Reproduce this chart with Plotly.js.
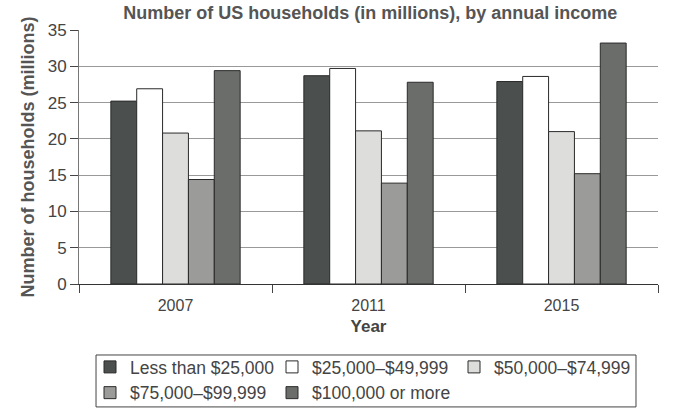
<!DOCTYPE html>
<html>
<head>
<meta charset="utf-8">
<script src="https://cdn.plot.ly/plotly-3.0.1.min.js"></script>
<style>html,body{margin:0;padding:0;background:#fff;}#chart{width:692px;height:417px;}</style>
</head>
<body>
<div id="chart"></div>
<script>
const years = ["2007", "2011", "2015"];
const seriesNames = ["Less than $25,000", "$25,000\u2013$49,999", "$50,000\u2013$74,999", "$75,000\u2013$99,999", "$100,000 or more"];
const lessThan25k = [25.2, 28.7, 27.9];
const from25kTo50k = [26.9, 29.7, 28.6];
const from50kTo75k = [20.8, 21.1, 21.0];
const from75kTo100k = [14.4, 13.9, 15.2];
const over100k = [29.4, 27.8, 33.2];
const seriesValues = [lessThan25k, from25kTo50k, from50kTo75k, from75kTo100k, over100k];
const colors = ["#4b4f4d", "#ffffff", "#dddddb", "#9b9c99", "#6a6d6a"];

const font = "Liberation Sans, Arial, Helvetica, sans-serif";
const traces = seriesNames.map((name, i) => ({
  type: "bar",
  name: name,
  x: years,
  y: seriesValues[i],
  marker: {color: colors[i], line: {color: "#2a2a2a", width: 1}}
}));

const layout = {
  width: 692, height: 417,
  margin: {l: 79, r: 34, t: 30, b: 133, autoexpand: false},
  paper_bgcolor: "#fff", plot_bgcolor: "#fff",
  font: {family: font, color: "#444", size: 16},
  barmode: "group", bargap: 0.33, bargroupgap: 0,
  title: {text: "<b>Number of US households (in millions), by annual income</b>",
          font: {family: font, size: 18, color: "#555"}, x: 0.535, xanchor: "center", y: 0.985, yanchor: "top"},
  xaxis: {
    type: "category",
    title: {text: "<b>Year</b>", font: {family: font, size: 17, color: "#444"}, standoff: 6},
    showline: true, linecolor: "#333", linewidth: 1,
    ticks: "outside", tickson: "boundaries", ticklen: 8, tickcolor: "#444",
    ticklabelstandoff: 7,
    tickfont: {family: font, size: 16, color: "#444"},
    showgrid: false
  },
  yaxis: {
    range: [0, 35], dtick: 5,
    title: {text: "<b>Number of households (millions)</b>", font: {family: font, size: 18, color: "#555"}, standoff: 8},
    showline: true, linecolor: "#777", linewidth: 1,
    ticks: "outside", ticklen: 8, tickcolor: "#444",
    tickfont: {family: font, size: 17, color: "#444"},
    showgrid: true, gridcolor: "#999", gridwidth: 1,
    zeroline: false
  },
  legend: {
    orientation: "h", x: 0.019, xanchor: "left", y: -0.256, yanchor: "top",
    borderwidth: 0, bgcolor: "rgba(0,0,0,0)",
    font: {family: font, size: 17.5, color: "#444"},
    entrywidth: 137, entrywidthmode: "pixels", traceorder: "normal",
    itemwidth: 30
  },
  shapes: [{
    type: "rect", xref: "paper", yref: "paper",
    x0: 0.0294, x1: 0.962, y0: -0.484, y1: -0.2795,
    line: {color: "#444", width: 1}, fillcolor: "rgba(0,0,0,0)", layer: "below"
  }],
  showlegend: true
};

Plotly.newPlot("chart", traces, layout, {displayModeBar: false, staticPlot: true});
</script>
</body>
</html>
